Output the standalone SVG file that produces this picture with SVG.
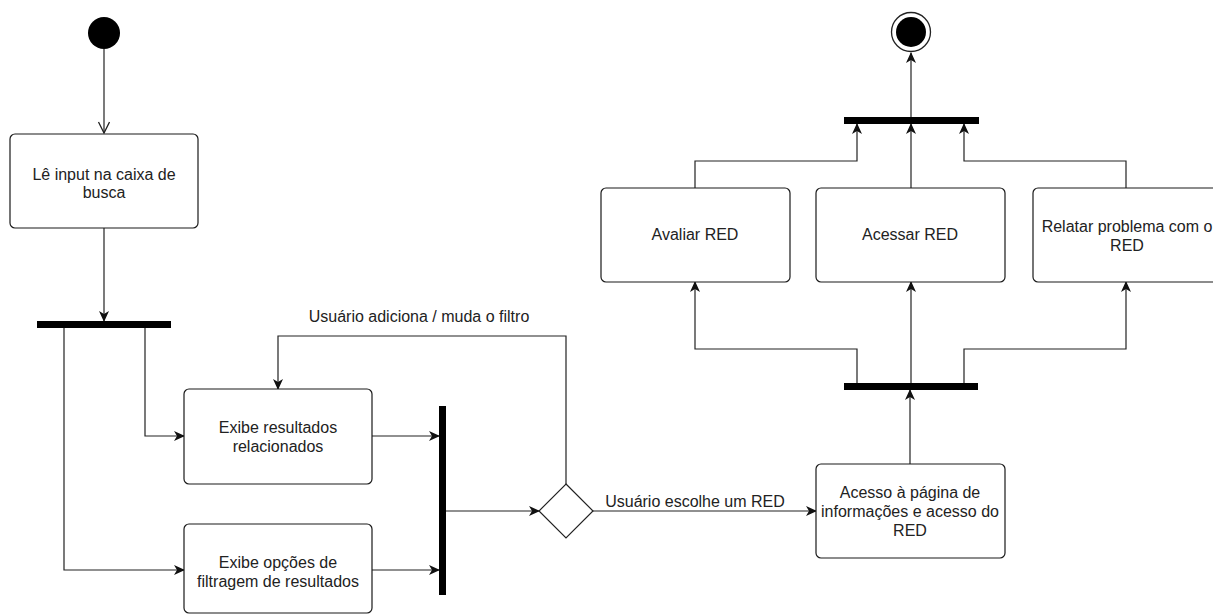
<svg xmlns="http://www.w3.org/2000/svg" width="1213" height="614" viewBox="0 0 1213 614">
<style>
.box{fill:#fff;stroke:#1a1a1a;stroke-width:1.2}
.bar{fill:#000}
.t{font-family:"Liberation Sans",Arial,sans-serif;font-size:16px;fill:#222;text-anchor:middle}
.e{fill:none;stroke:#222;stroke-width:1.2}
</style>
<defs>
<marker id="a" markerWidth="12" markerHeight="10" refX="10" refY="5" orient="auto" markerUnits="userSpaceOnUse">
<path d="M0,0 L11,5 L0,10 L3,5 Z" fill="#111"/>
</marker>
<marker id="o" markerWidth="14" markerHeight="14" refX="12" refY="6" orient="auto" markerUnits="userSpaceOnUse">
<path d="M1,0.5 L12,6 L1,11.5" fill="none" stroke="#222" stroke-width="1.3"/>
</marker>
</defs>
<rect width="1213" height="614" fill="#fff"/>
<g id="edges">
<path class="e" d="M104,49 L104,133" marker-end="url(#o)"/>
<path class="e" d="M104,228 L104,321" marker-end="url(#a)"/>
<path class="e" d="M145,328 L145,436 L184,436" marker-end="url(#a)"/>
<path class="e" d="M64,328 L64,570 L184,570" marker-end="url(#a)"/>
<path class="e" d="M372,436 L439,436" marker-end="url(#a)"/>
<path class="e" d="M372,570 L439,570" marker-end="url(#a)"/>
<path class="e" d="M446,511 L539,511" marker-end="url(#a)"/>
<path class="e" d="M566,484 L566,336 L278,336 L278,389" marker-end="url(#a)"/>
<path class="e" d="M593,511 L816,511" marker-end="url(#a)"/>
<path class="e" d="M910,464 L910,390" marker-end="url(#a)"/>
<path class="e" d="M857,383 L857,349 L695,349 L695,282" marker-end="url(#a)"/>
<path class="e" d="M911,383 L911,282" marker-end="url(#a)"/>
<path class="e" d="M964,383 L964,349 L1126,349 L1126,282" marker-end="url(#a)"/>
<path class="e" d="M695,188 L695,161 L857,161 L857,124" marker-end="url(#a)"/>
<path class="e" d="M911,188 L911,124" marker-end="url(#a)"/>
<path class="e" d="M1126,188 L1126,161 L964,161 L964,124" marker-end="url(#a)"/>
<path class="e" d="M911,117 L911,53" marker-end="url(#a)"/>
<text class="t" x="419" y="322">Usuário adiciona / muda o filtro</text>
<text class="t" x="695" y="507">Usuário escolhe um RED</text>
</g>
<g id="start"><circle cx="104" cy="33" r="16" fill="#000"/></g>
<g id="end"><circle cx="911" cy="32" r="19.5" fill="#fff" stroke="#222" stroke-width="1.3"/><circle cx="911" cy="32" r="15" fill="#000"/></g>
<g id="le-input"><rect class="box" x="10" y="134" width="188" height="94" rx="5"/><text class="t" x="104" y="180">Lê input na caixa de</text><text class="t" x="104" y="198">busca</text></g>
<g id="fork1"><rect class="bar" x="37" y="321" width="134" height="7"/></g>
<g id="exibe-resultados"><rect class="box" x="184" y="389" width="188" height="95" rx="5"/><text class="t" x="278" y="433">Exibe resultados</text><text class="t" x="278" y="452">relacionados</text></g>
<g id="exibe-opcoes"><rect class="box" x="184" y="524" width="188" height="89" rx="5"/><text class="t" x="278" y="568">Exibe opções de</text><text class="t" x="278" y="587">filtragem de resultados</text></g>
<g id="join1"><rect class="bar" x="439" y="406" width="7" height="189"/></g>
<g id="decision"><path d="M566,484 L593,511 L566,538 L539,511 Z" fill="#fff" stroke="#222" stroke-width="1.2"/></g>
<g id="acesso-pagina"><rect class="box" x="816" y="464" width="189" height="94" rx="5"/><text class="t" x="910" y="498">Acesso à página de</text><text class="t" x="910" y="517">informações e acesso do</text><text class="t" x="910" y="536">RED</text></g>
<g id="fork2"><rect class="bar" x="844" y="383" width="134" height="7"/></g>
<g id="avaliar"><rect class="box" x="601" y="188" width="189" height="94" rx="5"/><text class="t" x="695" y="240">Avaliar RED</text></g>
<g id="acessar"><rect class="box" x="816" y="188" width="189" height="94" rx="5"/><text class="t" x="910" y="240">Acessar RED</text></g>
<g id="relatar"><rect class="box" x="1033" y="188" width="189" height="94" rx="5"/><text class="t" x="1127" y="232">Relatar problema com o</text><text class="t" x="1127" y="251">RED</text></g>
<g id="join2"><rect class="bar" x="844" y="117" width="135" height="7"/></g>
</svg>
